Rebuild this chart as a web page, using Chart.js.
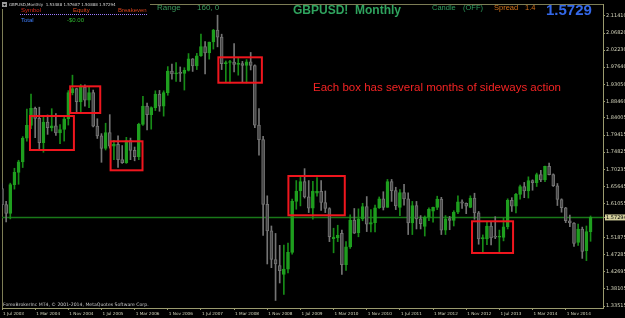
<!DOCTYPE html>
<html>
<head>
<meta charset="utf-8">
<script src="https://cdn.jsdelivr.net/npm/chart.js@4.4.1/dist/chart.umd.min.js"></script>
<style>
    html, body { margin: 0; padding: 0; background: #000; }
    canvas { display: block; }
</style>
</head>
<body>
<canvas id="grafico" width="625" height="318"></canvas>
<script>
// GBPUSD mensal - candles

var meses = [
    'Jul 2003', 'Aug 2003', 'Sep 2003', 'Oct 2003', 'Nov 2003', 'Dec 2003',
    'Jan 2004', 'Feb 2004', 'Mar 2004', 'Apr 2004', 'May 2004', 'Jun 2004', 'Jul 2004', 'Aug 2004', 'Sep 2004', 'Oct 2004', 'Nov 2004', 'Dec 2004',
    'Jan 2005', 'Feb 2005', 'Mar 2005', 'Apr 2005', 'May 2005', 'Jun 2005', 'Jul 2005', 'Aug 2005', 'Sep 2005', 'Oct 2005', 'Nov 2005', 'Dec 2005',
    'Jan 2006', 'Feb 2006', 'Mar 2006', 'Apr 2006', 'May 2006', 'Jun 2006', 'Jul 2006', 'Aug 2006', 'Sep 2006', 'Oct 2006', 'Nov 2006', 'Dec 2006',
    'Jan 2007', 'Feb 2007', 'Mar 2007', 'Apr 2007', 'May 2007', 'Jun 2007', 'Jul 2007', 'Aug 2007', 'Sep 2007', 'Oct 2007', 'Nov 2007', 'Dec 2007',
    'Jan 2008', 'Feb 2008', 'Mar 2008', 'Apr 2008', 'May 2008', 'Jun 2008', 'Jul 2008', 'Aug 2008', 'Sep 2008', 'Oct 2008', 'Nov 2008', 'Dec 2008',
    'Jan 2009', 'Feb 2009', 'Mar 2009', 'Apr 2009', 'May 2009', 'Jun 2009', 'Jul 2009', 'Aug 2009', 'Sep 2009', 'Oct 2009', 'Nov 2009', 'Dec 2009',
    'Jan 2010', 'Feb 2010', 'Mar 2010', 'Apr 2010', 'May 2010', 'Jun 2010', 'Jul 2010', 'Aug 2010', 'Sep 2010', 'Oct 2010', 'Nov 2010', 'Dec 2010',
    'Jan 2011', 'Feb 2011', 'Mar 2011', 'Apr 2011', 'May 2011', 'Jun 2011', 'Jul 2011', 'Aug 2011', 'Sep 2011', 'Oct 2011', 'Nov 2011', 'Dec 2011',
    'Jan 2012', 'Feb 2012', 'Mar 2012', 'Apr 2012', 'May 2012', 'Jun 2012', 'Jul 2012', 'Aug 2012', 'Sep 2012', 'Oct 2012', 'Nov 2012', 'Dec 2012',
    'Jan 2013', 'Feb 2013', 'Mar 2013', 'Apr 2013', 'May 2013', 'Jun 2013', 'Jul 2013', 'Aug 2013', 'Sep 2013', 'Oct 2013', 'Nov 2013', 'Dec 2013',
    'Jan 2014', 'Feb 2014', 'Mar 2014', 'Apr 2014', 'May 2014', 'Jun 2014', 'Jul 2014', 'Aug 2014', 'Sep 2014', 'Oct 2014', 'Nov 2014', 'Dec 2014',
    'Jan 2015', 'Feb 2015', 'Mar 2015', 'Apr 2015', 'May 2015'
];

var aberturas = [
    1.6505, 1.6075, 1.5835, 1.6610, 1.6940, 1.7220,
    1.7860, 1.8200, 1.8660, 1.8390, 1.7740, 1.8290, 1.8140, 1.8190, 1.8000, 1.8090, 1.8380, 1.9080,
    1.9190, 1.8840, 1.9230, 1.8880, 1.9080, 1.8180, 1.7920, 1.7580, 1.8010, 1.7640, 1.7690, 1.7280,
    1.7200, 1.7790, 1.7530, 1.7360, 1.8230, 1.8720, 1.8490, 1.8680, 1.9040, 1.8720, 1.9080, 1.9660,
    1.9580, 1.9610, 1.9600, 1.9680, 1.9990, 1.9800, 2.0070, 2.0320, 2.0150, 2.0440, 2.0760, 2.0570,
    1.9860, 1.9890, 1.9900, 1.9840, 1.9860, 1.9810, 1.9910, 1.9810, 1.8210, 1.7820, 1.6080, 1.5370,
    1.4600, 1.4440, 1.4200, 1.4340, 1.4790, 1.6160, 1.6440, 1.6690, 1.6280, 1.5980, 1.6380, 1.6430,
    1.6130, 1.5970, 1.5160, 1.5180, 1.5300, 1.4460, 1.4940, 1.5660, 1.5320, 1.5690, 1.6020, 1.5550,
    1.5590, 1.5990, 1.6230, 1.6000, 1.6690, 1.6450, 1.6000, 1.6400, 1.6230, 1.5580, 1.6050, 1.5690,
    1.5490, 1.5740, 1.5900, 1.6000, 1.6220, 1.5390, 1.5700, 1.5650, 1.5870, 1.6150, 1.6110, 1.6000,
    1.6250, 1.5850, 1.5150, 1.5150, 1.5500, 1.5210, 1.5200, 1.5190, 1.5480, 1.6190, 1.6030, 1.6350,
    1.6560, 1.6440, 1.6720, 1.6660, 1.6880, 1.6740, 1.7100, 1.6880, 1.6580, 1.6210, 1.5990, 1.5640,
    1.5580, 1.5060, 1.5420, 1.4840, 1.53488
];

var maximas = [
    1.6640, 1.6160, 1.6650, 1.7050, 1.7265, 1.7900,
    1.8640, 1.9045, 1.8690, 1.8690, 1.8440, 1.8480, 1.8650, 1.8520, 1.8220, 1.8450, 1.9135, 1.9550,
    1.9200, 1.9300, 1.9290, 1.9220, 1.9150, 1.8380, 1.7980, 1.8260, 1.8490, 1.7800, 1.7920, 1.7660,
    1.7880, 1.7860, 1.7620, 1.8260, 1.8980, 1.8800, 1.8700, 1.9130, 1.9140, 1.9130, 1.9780, 1.9850,
    1.9890, 1.9770, 1.9750, 2.0130, 1.9995, 2.0135, 2.0650, 2.0450, 2.0440, 2.0780, 2.1160, 2.0650,
    1.9930, 1.9950, 2.0400, 2.0000, 1.9920, 1.9970, 2.0160, 1.9830, 1.8650, 1.7910, 1.6310, 1.5500,
    1.5300, 1.4980, 1.4990, 1.5040, 1.6220, 1.6720, 1.6840, 1.7040, 1.6720, 1.6700, 1.6800, 1.6720,
    1.6440, 1.5990, 1.5440, 1.5520, 1.5390, 1.5080, 1.5800, 1.5970, 1.5960, 1.6110, 1.6290, 1.5940,
    1.6060, 1.6280, 1.6420, 1.6750, 1.6750, 1.6540, 1.6480, 1.6620, 1.6390, 1.6160, 1.6160, 1.5780,
    1.5770, 1.5990, 1.6010, 1.6300, 1.6270, 1.5780, 1.5760, 1.5910, 1.6310, 1.6200, 1.6120, 1.6310,
    1.6380, 1.5890, 1.5260, 1.5600, 1.5600, 1.5750, 1.5390, 1.5720, 1.6230, 1.6260, 1.6380, 1.6600,
    1.6670, 1.6820, 1.6740, 1.6920, 1.6995, 1.7110, 1.7190, 1.6900, 1.6640, 1.6230, 1.6000, 1.5790,
    1.5590, 1.5550, 1.5470, 1.5500, 1.57687
];

var minimas = [
    1.5990, 1.5612, 1.5690, 1.6490, 1.6620, 1.7070,
    1.7780, 1.8110, 1.7870, 1.7570, 1.7480, 1.7960, 1.8050, 1.7930, 1.7710, 1.7780, 1.8210, 1.9020,
    1.8560, 1.8550, 1.8720, 1.8680, 1.8160, 1.7850, 1.7210, 1.7540, 1.7590, 1.7280, 1.7070, 1.7180,
    1.7180, 1.7280, 1.7250, 1.7280, 1.8200, 1.8080, 1.8100, 1.8600, 1.8580, 1.8450, 1.9010, 1.9440,
    1.9380, 1.9380, 1.9150, 1.9660, 1.9650, 1.9700, 2.0050, 1.9580, 1.9980, 2.0250, 2.0310, 1.9700,
    1.9350, 1.9340, 1.9640, 1.9550, 1.9350, 1.9340, 1.9690, 1.8140, 1.7400, 1.5250, 1.4480, 1.4380,
    1.3500, 1.3970, 1.3660, 1.4240, 1.4740, 1.5950, 1.6040, 1.6250, 1.5860, 1.5680, 1.6300, 1.5920,
    1.5860, 1.5080, 1.4780, 1.5080, 1.4200, 1.4310, 1.4900, 1.5300, 1.5210, 1.5640, 1.5350, 1.5340,
    1.5340, 1.5970, 1.5930, 1.6000, 1.6160, 1.5940, 1.5780, 1.6060, 1.5270, 1.5270, 1.5420, 1.5420,
    1.5230, 1.5640, 1.5600, 1.5940, 1.5270, 1.5270, 1.5400, 1.5500, 1.5830, 1.5970, 1.5830, 1.5990,
    1.5680, 1.5010, 1.4810, 1.5000, 1.4990, 1.5160, 1.4810, 1.5100, 1.5420, 1.5890, 1.5850, 1.6220,
    1.6260, 1.6250, 1.6460, 1.6560, 1.6690, 1.6690, 1.6870, 1.6560, 1.6050, 1.5870, 1.5590, 1.5480,
    1.4950, 1.4980, 1.4630, 1.4570, 1.50888
];

var fechamentos = [
    1.6075, 1.5835, 1.6610, 1.6940, 1.7220, 1.7860,
    1.8200, 1.8660, 1.8390, 1.7740, 1.8290, 1.8140, 1.8190, 1.8000, 1.8090, 1.8380, 1.9080, 1.9190,
    1.8840, 1.9230, 1.8880, 1.9080, 1.8180, 1.7920, 1.7580, 1.8010, 1.7640, 1.7690, 1.7280, 1.7200,
    1.7790, 1.7530, 1.7360, 1.8230, 1.8720, 1.8490, 1.8680, 1.9040, 1.8720, 1.9080, 1.9660, 1.9580,
    1.9610, 1.9600, 1.9680, 1.9990, 1.9800, 2.0070, 2.0320, 2.0150, 2.0440, 2.0760, 2.0570, 1.9860,
    1.9890, 1.9900, 1.9840, 1.9860, 1.9810, 1.9910, 1.9810, 1.8210, 1.7820, 1.6080, 1.5370, 1.4600,
    1.4480, 1.4300, 1.4340, 1.4790, 1.6160, 1.6440, 1.6690, 1.6280, 1.5980, 1.6440, 1.6430, 1.6130,
    1.5970, 1.5210, 1.5200, 1.5250, 1.4460, 1.4940, 1.5660, 1.5310, 1.5690, 1.6020, 1.5550, 1.5590,
    1.5990, 1.6230, 1.6000, 1.6690, 1.6450, 1.6040, 1.6400, 1.6230, 1.5580, 1.6050, 1.5690, 1.5560,
    1.5740, 1.5950, 1.6000, 1.6220, 1.5390, 1.5690, 1.5650, 1.5870, 1.6150, 1.6110, 1.6030, 1.6250,
    1.5850, 1.5150, 1.5190, 1.5500, 1.5180, 1.5200, 1.5210, 1.5480, 1.6190, 1.6030, 1.6350, 1.6560,
    1.6440, 1.6720, 1.6660, 1.6880, 1.6740, 1.7100, 1.6880, 1.6580, 1.6210, 1.5990, 1.5640, 1.5580,
    1.5030, 1.5420, 1.4820, 1.5349, 1.57294
];

var precoAtual = 1.57294;

var rotulosX = [
    '1 Jul 2003', '1 Mar 2004', '1 Nov 2004', '1 Jul 2005', '1 Mar 2006', '1 Nov 2006',
    '1 Jul 2007', '1 Mar 2008', '1 Nov 2008', '1 Jul 2009', '1 Mar 2010', '1 Nov 2010',
    '1 Jul 2011', '1 Mar 2012', '1 Nov 2012', '1 Jul 2013', '1 Mar 2014', '1 Nov 2014'
];

var rotulosY = [
    2.11410, 2.06820, 2.02230, 1.97640, 1.93050, 1.88460, 1.84005, 1.79415, 1.74825,
    1.70235, 1.65645, 1.61055, 1.57294, 1.51875, 1.47285, 1.42695, 1.38105, 1.33515
];

// caixas vermelhas: indice do mes inicial/final e faixa de preco
var caixas = [
    { de: 6.75, ate: 17.35, topo: 1.8453, base: 1.7540 },
    { de: 16.45, ate: 23.7, topo: 1.9250, base: 1.8534 },
    { de: 26.2, ate: 33.9, topo: 1.7774, base: 1.6995 },
    { de: 52.2, ate: 62.7, topo: 2.0029, base: 1.9347 },
    { de: 69.1, ate: 82.7, topo: 1.6842, base: 1.5787 },
    { de: 113.4, ate: 123.3, topo: 1.5626, base: 1.4775 }
];

// espaco vazio a direita (chart shift)
var rotulos = meses.concat(['', '', '']);

var corAlta = '#1f9f1f';
var corAltaPavio = '#178c17';
var corBaixa = '#484848';
var corBaixaBorda = '#747474';

function ehAlta(i) {
    return fechamentos[i] >= aberturas[i];
}

function texto(ctx, t, x, y, fonte, cor) {
    ctx.font = fonte;
    ctx.fillStyle = cor;
    ctx.textAlign = 'left';
    ctx.textBaseline = 'middle';
    ctx.fillText(t, x, y);
}

var extras = {
    id: 'extras',
    beforeDatasetsDraw: function (chart) {
        var ctx = chart.ctx;
        var a = chart.chartArea;
        ctx.save();
        ctx.strokeStyle = '#7d7d55';
        ctx.lineWidth = 1;
        ctx.beginPath();
        ctx.moveTo(a.left + 0.5, a.bottom);
        ctx.lineTo(a.left + 0.5, a.top + 0.5);
        ctx.lineTo(a.right, a.top + 0.5);
        ctx.stroke();
        ctx.restore();
    },
    afterDraw: function (chart) {
        var ctx = chart.ctx;
        var xs = chart.scales.x;
        var ys = chart.scales.y;
        ctx.save();

        // caixas
        ctx.strokeStyle = '#f0161e';
        ctx.lineWidth = 2;
        for (var i = 0; i < caixas.length; i++) {
            var c = caixas[i];
            var x0 = xs.getPixelForValue(c.de);
            var x1 = xs.getPixelForValue(c.ate);
            var y0 = ys.getPixelForValue(c.topo);
            var y1 = ys.getPixelForValue(c.base);
            ctx.strokeRect(x0, y0, x1 - x0, y1 - y0);
        }

        texto(ctx, 'Each box has several months of sideways action', 313, 88, '11.5px "Liberation Sans", Arial, sans-serif', '#f42424');

        // cabecalho
        ctx.fillStyle = '#000';
        ctx.fillRect(0, 0, 150, 9);
        ctx.fillStyle = '#9a9a9a';
        ctx.fillRect(2, 2, 5, 5);
        ctx.fillStyle = '#000';
        ctx.beginPath();
        ctx.moveTo(3, 4); ctx.lineTo(6, 4); ctx.lineTo(4.5, 6); ctx.fill();
        texto(ctx, 'GBPUSD,Monthly  1.53488 1.57687 1.50888 1.57294', 9, 5, '4px "DejaVu Sans", sans-serif', '#d8d8d8');
        texto(ctx, 'Symbol', 21, 10.5, '6px "Liberation Sans", sans-serif', '#d8281c');
        texto(ctx, 'Equity', 73, 10.5, '6px "Liberation Sans", sans-serif', '#e0461c');
        texto(ctx, 'Breakeven', 118, 10.5, '6px "Liberation Sans", sans-serif', '#d8421c');

        ctx.strokeStyle = '#9b7bff';
        ctx.lineWidth = 1;
        ctx.setLineDash([1, 1]);
        ctx.beginPath();
        ctx.moveTo(20, 14.5);
        ctx.lineTo(147, 14.5);
        ctx.stroke();
        ctx.setLineDash([]);

        texto(ctx, 'Total', 21, 20, '6px "Liberation Sans", sans-serif', '#3f7fff');
        texto(ctx, '-$0.00', 67, 20, '6px "Liberation Sans", sans-serif', '#2fb52f');

        texto(ctx, 'Range', 157, 8, '8px "Liberation Sans", sans-serif', '#3a9a5c');
        texto(ctx, '160, 0', 197, 8, '8px "Liberation Sans", sans-serif', '#3a9a5c');
        texto(ctx, 'GBPUSD!  Monthly', 293, 11, 'bold 12px "Liberation Sans", Arial, sans-serif', '#2fa35e');
        texto(ctx, 'Candle', 432, 8, '7.5px "Liberation Sans", sans-serif', '#2f9f5f');
        texto(ctx, '(OFF)', 463, 8, '7.5px "Liberation Sans", sans-serif', '#2f9f5f');
        texto(ctx, 'Spread', 494, 8, '7.5px "Liberation Sans", sans-serif', '#d4731a');
        texto(ctx, '1.4', 525, 8, '7.5px "Liberation Sans", sans-serif', '#d4731a');
        texto(ctx, '1.5729', 546, 10.5, 'bold 15px "Liberation Sans", Arial, sans-serif', '#3468e8');

        texto(ctx, 'ForexBrokerInc MT4, \u00a9 2001-2014, MetaQuotes Software Corp.', 3, 305, '4.6px "DejaVu Sans", sans-serif', '#c8c8c8');
        ctx.restore();
    }
};

function plotarGrafico() {
    var pavios = [];
    var corpos = [];
    var coresPavio = [];
    var coresCorpo = [];
    var coresBorda = [];

    for (var i = 0; i < meses.length; i++) {
        pavios.push([minimas[i], maximas[i]]);
        corpos.push([aberturas[i], fechamentos[i]]);
        coresPavio.push(ehAlta(i) ? corAltaPavio : corBaixaBorda);
        coresCorpo.push(ehAlta(i) ? corAlta : corBaixa);
        coresBorda.push(ehAlta(i) ? corAlta : corBaixaBorda);
    }

    var ctx = document.getElementById('grafico').getContext('2d');

    new Chart(ctx, {
        type: 'bar',
        data: {
            labels: rotulos,
            datasets: [
                {
                    label: 'Corpo',
                    data: corpos,
                    backgroundColor: coresCorpo,
                    borderColor: coresBorda,
                    borderWidth: 1,
                    borderSkipped: false,
                    barThickness: 3,
                    minBarLength: 1,
                    grouped: false,
                    order: 1
                },
                {
                    label: 'Pavio',
                    data: pavios,
                    backgroundColor: coresPavio,
                    barThickness: 1,
                    grouped: false,
                    order: 2
                },
                {
                    type: 'line',
                    label: 'Bid',
                    data: rotulos.map(function () { return precoAtual; }),
                    borderColor: '#187818',
                    backgroundColor: '#187818',
                    borderWidth: 1.5,
                    pointRadius: 0,
                    fill: false,
                    order: 3
                }
            ]
        },
        options: {
            responsive: false,
            devicePixelRatio: 1,
            animation: false,
            layout: {
                autoPadding: false,
                padding: { left: 2, top: 4, right: 0, bottom: 0 }
            },
            plugins: {
                legend: { display: false },
                tooltip: { enabled: false }
            },
            scales: {
                x: {
                    offset: false,
                    grid: {
                        offset: false,
                        drawOnChartArea: false,
                        tickLength: 2,
                        color: function (c) {
                            return (c.index % 8 === 0 && c.index < meses.length) ? '#9a9a6e' : 'rgba(0,0,0,0)';
                        }
                    },
                    border: { display: true, color: '#9a9a6e' },
                    ticks: {
                        autoSkip: false,
                        maxRotation: 0,
                        minRotation: 0,
                        align: 'start',
                        labelOffset: 1,
                        padding: 1,
                        color: '#d4d4bc',
                        font: { family: '"DejaVu Sans", sans-serif', size: 4.2 },
                        callback: function (v, i) {
                            if (i % 8 === 0 && i < meses.length) return rotulosX[i / 8];
                            return '';
                        }
                    },
                    afterFit: function (s) {
                        s.height = 10;
                        s.paddingLeft = 0;
                        s.paddingRight = 0;
                    }
                },
                y: {
                    position: 'right',
                    min: 1.32978,
                    max: 2.14607,
                    grid: {
                        drawOnChartArea: false,
                        tickLength: 2,
                        color: '#9a9a6e'
                    },
                    border: { display: true, color: '#9a9a6e' },
                    afterBuildTicks: function (s) {
                        s.ticks = rotulosY.map(function (v) { return { value: v }; });
                    },
                    ticks: {
                        padding: 1,
                        font: { family: '"DejaVu Sans", sans-serif', size: 5 },
                        color: function (c) {
                            return c.tick && c.tick.value === precoAtual ? '#000' : '#d4d4bc';
                        },
                        showLabelBackdrop: function (c) {
                            return !!(c.tick && c.tick.value === precoAtual);
                        },
                        backdropColor: '#d2cf9c',
                        backdropPadding: { left: 1, right: 1, top: 0, bottom: 0 },
                        callback: function (v) { return v.toFixed(5); }
                    },
                    afterFit: function (s) {
                        s.width = 22;
                        s.paddingTop = 0;
                        s.paddingBottom = 0;
                    }
                }
            }
        },
        plugins: [extras]
    });
}

plotarGrafico();
</script>
</body>
</html>
